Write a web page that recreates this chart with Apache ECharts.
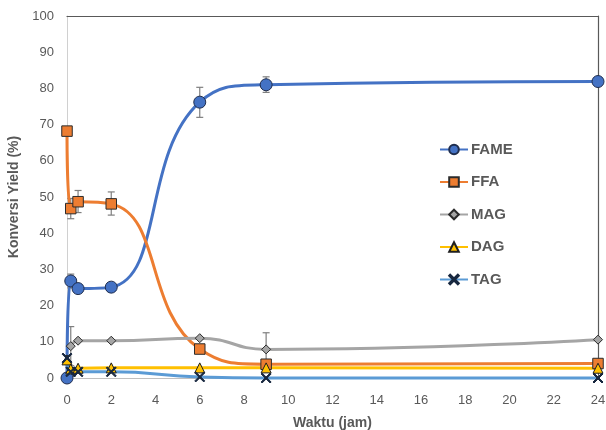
<!DOCTYPE html>
<html>
<head>
<meta charset="utf-8">
<script src="https://cdn.jsdelivr.net/npm/echarts@6/dist/echarts.min.js"></script>
<style>html,body{margin:0;padding:0;background:#fff}#c{width:606px;height:430px}</style>
</head>
<body>
<div id="c"></div>
<script>
const times = [0, 0.17, 0.5, 2, 6, 9, 24];
const seriesNames = ['FAME', 'FFA', 'MAG', 'DAG', 'TAG'];
const fame = [0, 26.8, 24.7, 25.1, 76.2, 81.0, 81.9];
const ffa = [68.2, 46.8, 48.7, 48.1, 8.0, 3.8, 4.0];
const mag = [null, 8.8, 10.3, 10.3, 11.0, 7.9, 10.6];
const dag = [5.0, 2.5, 2.7, 2.8, 2.8, 2.8, 2.7];
const tag = [5.5, 1.7, 1.7, 1.7, 0.3, 0.0, 0.0];
// error bars: [time, low, high]
const errFame = [[0.17, 24.9, 28.7], [6, 72.0, 80.3], [9, 78.9, 83.2]];
const errFfa = [[0.17, 44.0, 49.6], [0.5, 45.7, 51.8], [2, 45.0, 51.4]];
const errMag = [[0.17, 3.4, 14.2], [9, 3.3, 12.5]];
const xTicks = [0, 24, 2];
const yTicks = [0, 100, 10];

const FONT = 'Liberation Sans';
const pair = arr => times.map((t, i) => [t, arr[i]]);
const xMark = 'path://M1,0 L5,4 L9,0 L10,1 L6,5 L10,9 L9,10 L5,6 L1,10 L0,9 L4,5 L0,1 Z';

function errSeries(data) {
  return {
    type: 'custom', data: data, z: 1, silent: true,
    encode: { x: 0, y: [1, 2] },
    renderItem: function (params, api) {
      const x = api.value(0);
      const lo = api.coord([x, api.value(1)]);
      const hi = api.coord([x, api.value(2)]);
      const w = 3.5;
      const st = { stroke: '#7f7f7f', lineWidth: 1.2 };
      return { type: 'group', children: [
        { type: 'line', shape: { x1: lo[0], y1: lo[1], x2: hi[0], y2: hi[1] }, style: st },
        { type: 'line', shape: { x1: lo[0] - w, y1: lo[1], x2: lo[0] + w, y2: lo[1] }, style: st },
        { type: 'line', shape: { x1: hi[0] - w, y1: hi[1], x2: hi[0] + w, y2: hi[1] }, style: st }
      ]};
    }
  };
}

function lineSeries(name, arr, color, symbol, size, fill, border) {
  return {
    name: name, type: 'line', data: pair(arr), smooth: 0.5, clip: false, z: 3,
    symbol: symbol, symbolSize: size, showAllSymbol: true, connectNulls: false,
    lineStyle: { color: color, width: 3 },
    itemStyle: { color: fill, borderColor: border, borderWidth: 1 },
    emphasis: { disabled: true }
  };
}

const chart = echarts.init(document.getElementById('c'));
chart.setOption({
  animation: false,
  textStyle: { fontFamily: FONT },
  grid: { left: 67, right: 8, top: 16, bottom: 52, outerBoundsMode: 'none', containLabel: false },
  legend: {
    orient: 'vertical', left: 434, top: 137, itemGap: 17.5,
    itemWidth: 28, itemHeight: 12,
    data: seriesNames,
    textStyle: { fontFamily: FONT, fontSize: 15, fontWeight: 'bold', color: '#595959', padding: [0, 0, 0, -2] }
  },
  xAxis: [{
    type: 'value', min: xTicks[0], max: xTicks[1], interval: xTicks[2],
    name: 'Waktu (jam)', nameLocation: 'middle', nameGap: 38,
    nameTextStyle: { fontFamily: FONT, fontSize: 14, fontWeight: 'bold', color: '#595959' },
    axisLine: { show: true, lineStyle: { color: '#bfbfbf', width: 1 } },
    axisTick: { show: false },
    splitLine: { show: false },
    axisLabel: { fontFamily: FONT, fontSize: 13, color: '#595959', margin: 16 }
  }, {
    type: 'value', position: 'top', min: 0, max: 24,
    axisLine: { show: true, onZero: false, lineStyle: { color: '#595959', width: 1.2 } },
    axisTick: { show: false }, axisLabel: { show: false }, splitLine: { show: false }
  }],
  yAxis: [{
    type: 'value', min: yTicks[0], max: yTicks[1], interval: yTicks[2],
    name: 'Konversi Yield (%)', nameLocation: 'middle', nameGap: 37,
    nameTextStyle: { fontFamily: FONT, fontSize: 14, fontWeight: 'bold', color: '#595959' },
    axisLine: { show: true, lineStyle: { color: '#d0d0d0', width: 1 } },
    axisTick: { show: false },
    splitLine: { show: false },
    axisLabel: { fontFamily: FONT, fontSize: 13, color: '#595959', margin: 13 }
  }, {
    type: 'value', position: 'right', min: 0, max: 100,
    axisLine: { show: true, onZero: false, lineStyle: { color: '#595959', width: 1.2 } },
    axisTick: { show: false }, axisLabel: { show: false }, splitLine: { show: false }
  }],
  series: [
    errSeries(errFame),
    errSeries(errFfa),
    errSeries(errMag),
    lineSeries('FAME', fame, '#4472C4', 'circle', 12, '#4472C4', '#1f2d4d'),
    lineSeries('FFA', ffa, '#ED7D31', 'rect', 10.5, '#ED7D31', '#2b2b2b'),
    lineSeries('MAG', mag, '#A5A5A5', 'diamond', 9, '#A5A5A5', '#2b2b2b'),
    lineSeries('DAG', dag, '#FFC000', 'triangle', 10, '#FFC000', '#1f1f1f'),
    lineSeries('TAG', tag, '#5B9BD5', xMark, 10, '#17273f', '#17273f')
  ]
});
</script>
</body>
</html>
